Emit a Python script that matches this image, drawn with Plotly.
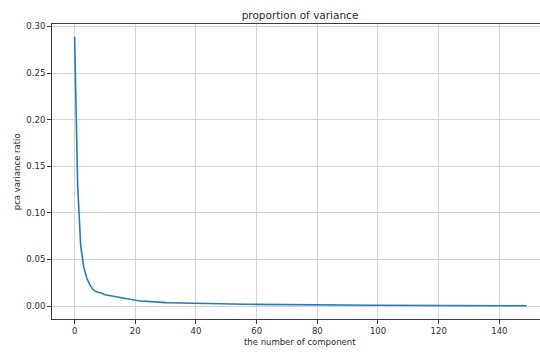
import plotly.graph_objects as go

# explained variance ratio per principal component
variance_ratio = [
    0.289, 0.130, 0.065, 0.042, 0.030, 0.023, 0.018, 0.0155, 0.0145, 0.0138,
    0.0122, 0.0116, 0.0108, 0.0100, 0.0095, 0.0090, 0.0085, 0.0078, 0.0068, 0.0064,
    0.0060, 0.0057, 0.0054, 0.0051, 0.0048, 0.0046, 0.0044, 0.0042, 0.0040, 0.0038,
    0.0037, 0.0036, 0.0035, 0.0034, 0.0033, 0.0032, 0.0031, 0.0030, 0.0029, 0.0028,
    0.0027, 0.00265, 0.0026, 0.00255, 0.0025, 0.00245, 0.0024, 0.00235, 0.0023, 0.00225,
    0.0022, 0.00215, 0.0021, 0.00205, 0.0020, 0.00196, 0.00192, 0.00188, 0.00184, 0.0018,
    0.00176, 0.00172, 0.00168, 0.00165, 0.00162, 0.00159, 0.00156, 0.00153, 0.0015, 0.00147,
    0.00144, 0.00141, 0.00138, 0.00136, 0.00134, 0.00132, 0.0013, 0.00128, 0.00126, 0.00124,
    0.00122, 0.0012, 0.00118, 0.00116, 0.00114, 0.00112, 0.0011, 0.00108, 0.00106, 0.00104,
    0.00102, 0.0010, 0.00098, 0.00096, 0.00095, 0.00094, 0.00092, 0.0009, 0.00089, 0.00088,
    0.00086, 0.00085, 0.00084, 0.00082, 0.00081, 0.0008, 0.00078, 0.00077, 0.00076, 0.00075,
    0.00074, 0.00072, 0.00071, 0.0007, 0.00069, 0.00068, 0.00067, 0.00066, 0.00065, 0.00064,
    0.00063, 0.00062, 0.00061, 0.0006, 0.00059, 0.00058, 0.00057, 0.00056, 0.00055, 0.00054,
    0.00053, 0.00052, 0.00051, 0.0005, 0.00049, 0.00048, 0.00047, 0.00046, 0.00045, 0.00044,
    0.00043, 0.00042, 0.00041, 0.0004, 0.00039, 0.00038, 0.00037, 0.00036, 0.00034, 0.00031,
]
components = list(range(len(variance_ratio)))

x_ticks = [0, 20, 40, 60, 80, 100, 120, 140]
y_ticks = [0.00, 0.05, 0.10, 0.15, 0.20, 0.25, 0.30]

title_text = "proportion of variance"
x_label = "the number of component"
y_label = "pca variance ratio"

FONT = "DejaVu Sans"
TEXT = "#2b2b2b"
AXIS = "#3a3a3a"
GRID = "#d3d3d3"

L, R, T, B = 52, 0, 24, 33
W, H = 540, 352

fig = go.Figure()
fig.add_trace(go.Scatter(
    x=components, y=variance_ratio, mode="lines",
    line=dict(color="#2a7ab8", width=1.6), showlegend=False,
))

fig.update_layout(
    width=W, height=H,
    margin=dict(l=L, r=R, t=T, b=B, autoexpand=False),
    paper_bgcolor="white", plot_bgcolor="white",
    font=dict(family=FONT, size=8.5, color=TEXT),
    title=dict(text=title_text, x=300 / W, xanchor="center", xref="container",
               y=1 - 15 / H, yref="container", yanchor="middle",
               font=dict(family=FONT, size=10.5, color=TEXT)),
    annotations=[
        dict(text=x_label, xref="paper", yref="paper", x=(300 - L) / (W - L - R), y=0,
             yshift=-22.7, xanchor="center", yanchor="middle", showarrow=False,
             font=dict(family=FONT, size=8.5, color=TEXT)),
        dict(text=y_label, xref="paper", yref="paper", x=0, y=0.5,
             xshift=16.7 - L, textangle=-90, xanchor="center", yanchor="middle",
             showarrow=False, font=dict(family=FONT, size=8.5, color=TEXT)),
    ],
)

fig.update_xaxes(
    range=[-7.45, 153.4], tickvals=x_ticks, ticktext=[str(v) for v in x_ticks],
    showgrid=True, gridcolor=GRID, gridwidth=1,
    showline=True, linecolor=AXIS, linewidth=1, mirror=True,
    ticks="outside", ticklen=4, tickcolor=AXIS, tickwidth=1,
    zeroline=False, automargin=False,
)
fig.update_yaxes(
    range=[-0.0139, 0.3026], tickvals=y_ticks, ticktext=[f"{v:.2f}" for v in y_ticks],
    showgrid=True, gridcolor=GRID, gridwidth=1,
    showline=True, linecolor=AXIS, linewidth=1, mirror=False,
    ticks="outside", ticklen=4, tickcolor=AXIS, tickwidth=1,
    zeroline=False, automargin=False,
)

fig.write_html("out.html", config={"displayModeBar": False},
               post_script="document.body.style.margin='0';")
